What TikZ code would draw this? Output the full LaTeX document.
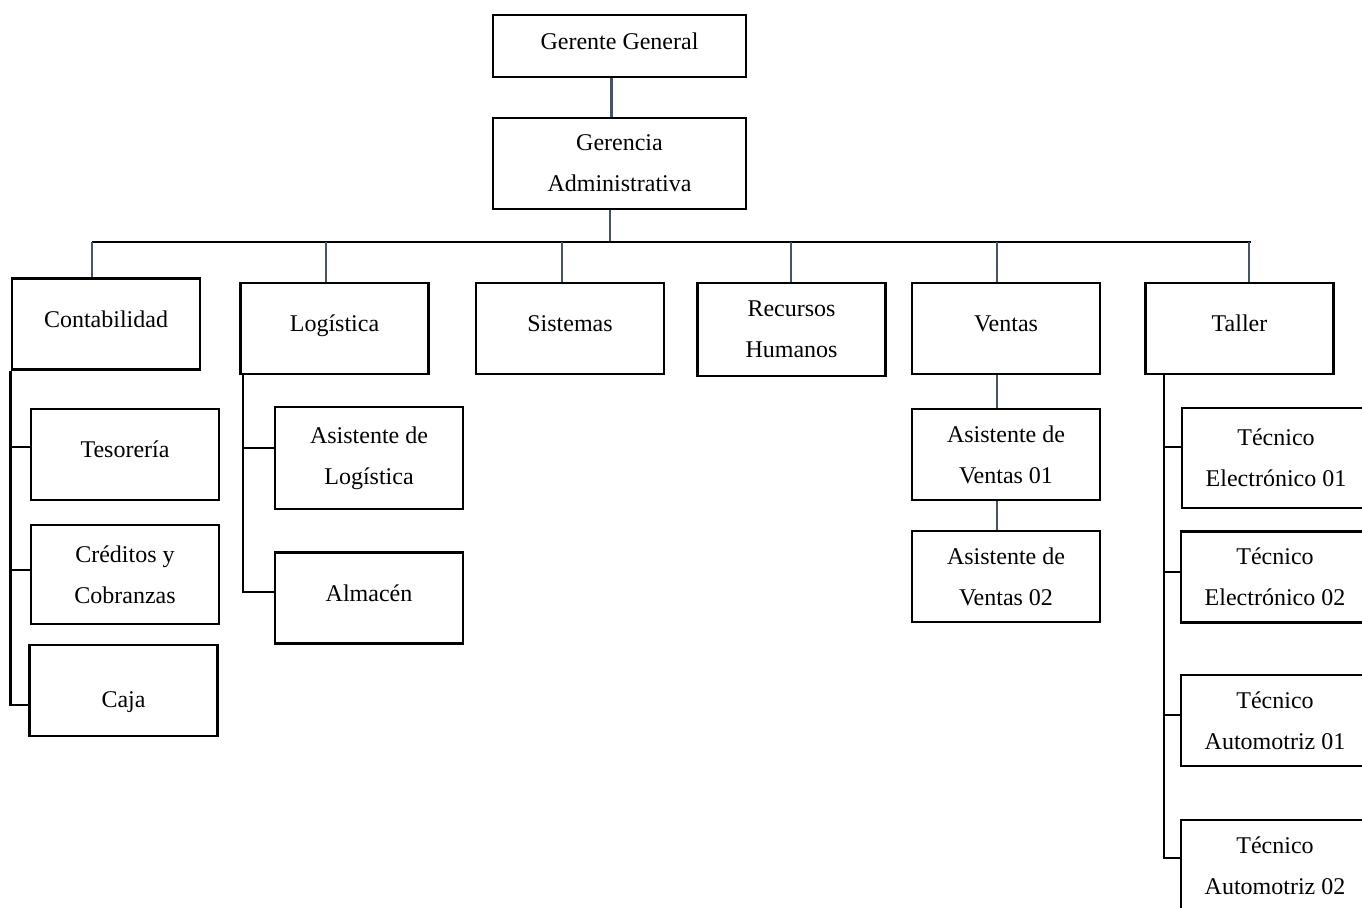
\documentclass[tikz,border=0pt]{standalone}
\usepackage{fontspec}
\setmainfont{Liberation Serif}
\usepackage{tikz}
\usetikzlibrary{positioning}
\definecolor{linkgray}{RGB}{68,84,106}

\begin{document}
\begin{tikzpicture}[
    x=0.5pt, y=-0.5pt,
    font=\fontsize{12}{20.5}\selectfont,
    box/.style={
		rectangle,
		draw=black,
		line width=1.4pt,
		align=center,
		inner sep=0pt,
		minimum width=94pt,
		minimum height=45.5pt,
		fill=white
	},
	single/.style={
		text depth=5pt
	},
	link/.style={
		draw=linkgray,
		line width=1.3pt
	},
	tree/.style={
		draw=black,
		line width=1.3pt
	}
  ]
  \useasboundingbox (0,0) rectangle (1362,908);

  % the top of the chart
  \node [box, single, minimum width=126.5pt, minimum height=31pt] (gg) at (619.5,46) {Gerente General};
  \node [box, minimum width=126.5pt] (ga) at (619.5,163.5) {Gerencia\\Administrativa};

  % the six areas
  \node [box, single] (cont) at (106,324) {Contabilidad};
  \node [box, single] (logi) at (334.5,328.5) {Log\'istica};
  \node [box, single] (sist) at (570,328.5) {Sistemas};
  \node [box, minimum height=46.5pt] (rrhh) at (791.5,329.5) {Recursos\\Humanos};
  \node [box, single] (vent) at (1006,328.5) {Ventas};
  \node [box, single] (tall) at (1239.5,328.5) {Taller};

  % under Contabilidad
  \node [box, single] (teso) at (125,454.5) {Tesorer\'ia};
  \node [box, minimum height=49.5pt] (cred) at (125,574.5) {Cr\'editos y\\Cobranzas};
  \node [box, text height=20pt] (caja) at (123.5,690.5) {Caja};

  % under Logistica
  \node [box, minimum height=51pt] (asislog) at (369,458) {Asistente de\\Log\'istica};
  \node [box, single] (alma) at (369,598) {Almac\'en};

  % under Ventas
  \node [box] (av1) at (1006,454.5) {Asistente de\\Ventas 01};
  \node [box] (av2) at (1006,576.5) {Asistente de\\Ventas 02};

  % under Taller
  \node [box, minimum height=50pt] (te1) at (1276,458) {T\'ecnico\\Electr\'onico 01};
  \node [box] (te2) at (1275,577) {T\'ecnico\\Electr\'onico 02};
  \node [box] (ta1) at (1275,720.5) {T\'ecnico\\Automotriz 01};
  \node [box] (ta2) at (1275,865.5) {T\'ecnico\\Automotriz 02};

  % the bus and the drops
  \coordinate (busL) at (92,242);
  \coordinate (busR) at (1251,242);
  \coordinate (busT) at (610,242);
  \draw [link] ([xshift=-4pt]gg.south) -- ([xshift=-4pt]ga.north);
  \draw [link] (busT |- ga.south) -- (busT);
  \draw [tree] (busL) -- (busR);
  \foreach \bx/\area in {92/cont, 326/logi, 562/sist, 791/rrhh, 997/vent, 1249/tall}
    \draw [link] (\bx,242) -- (\bx,242 |- \area.north);

  \draw [link] ([xshift=-4.5pt]vent.south) -- ([xshift=-4.5pt]av1.north);
  \draw [link] ([xshift=-4.5pt]av1.south) -- ([xshift=-4.5pt]av2.north);

  % side trees
  \draw [tree] (cont.south west) |- ([yshift=-7.25pt]caja.west);
  \draw [tree] ([yshift=3.75pt]teso.west) -| (cont.south west);
  \draw [tree] ([yshift=2.25pt]cred.west) -| (cont.south west);

  \draw [tree] ([xshift=2pt]logi.south west) |- ([yshift=3pt]alma.west);
  \draw [tree] ([yshift=5pt]asislog.west) -| ([xshift=2pt]logi.south west);

  \draw [tree] ([xshift=10pt]tall.south west) |- ([yshift=3.75pt]ta2.west);
  \draw [tree] ([yshift=5.5pt]te1.west) -| ([xshift=10pt]tall.south west);
  \draw [tree] ([yshift=2.5pt]te2.west) -| ([xshift=10pt]tall.south west);
  \draw [tree] ([yshift=2.75pt]ta1.west) -| ([xshift=10pt]tall.south west);

\end{tikzpicture}
\end{document}
